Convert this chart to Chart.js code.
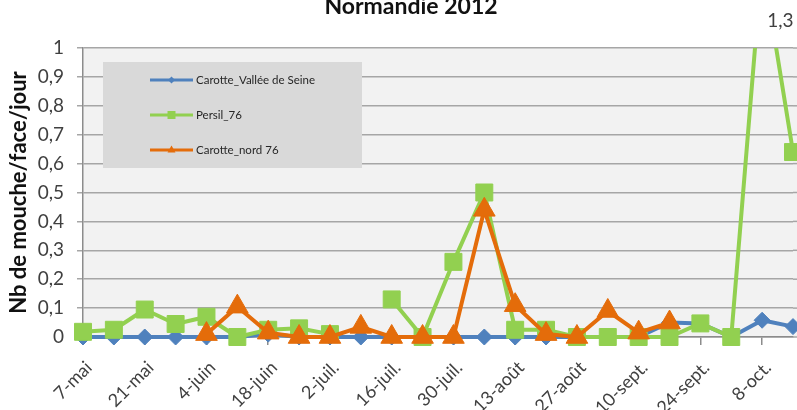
<!DOCTYPE html>
<html lang="fr">
<head>
<meta charset="UTF-8">
<title>Normandie 2012</title>
<script src="https://cdn.jsdelivr.net/npm/chart.js@4.4.1/dist/chart.umd.min.js"></script>
<style>
    html, body { margin: 0; padding: 0; background: #fff; }
    #wrap { width: 797px; height: 410px; }
</style>
</head>
<body>
<div id="wrap"><canvas id="chart" width="797" height="410"></canvas></div>
<script>
    // semaines 2012 (lundi)
    var dates = ['7-mai', '14-mai', '21-mai', '28-mai', '4-juin', '11-juin', '18-juin', '25-juin',
        '2-juil.', '9-juil.', '16-juil.', '23-juil.', '30-juil.', '6-août', '13-août', '20-août',
        '27-août', '3-sept.', '10-sept.', '17-sept.', '24-sept.', '1-oct.', '8-oct.', '15-oct.'];

    var carotteSeine = [0, 0, 0, 0, 0, 0, 0.01, 0, 0, 0, 0, 0,
        0, 0, 0, 0, 0, 0, 0, 0.05, 0.047, 0, 0.058, 0.036];
    var persil76 = [0.018, 0.025, 0.095, 0.045, 0.07, 0, 0.025, 0.03, 0.01, null, 0.13, 0,
        0.26, 0.5, 0.025, 0.025, 0, 0, 0, 0, 0.047, 0, 1.3, 0.64];
    var carotteNord = [null, null, null, null, 0.01, 0.105, 0.015, 0, 0, 0.035, 0, 0,
        0, 0.44, 0.11, 0.01, 0, 0.09, 0.015, 0.05, null, null, null, null];

    var yTicks = [0, 0.1, 0.2, 0.3, 0.4, 0.5, 0.6, 0.7, 0.8, 0.9, 1];

    var BLUE = '#4f81bd', GREEN = '#92d050', ORANGE = '#e46c0a';
    var FONT = 'Lato';

    function fr(v) {
        return String(Math.round(v * 10) / 10).replace('.', ',');
    }

    var bgPlugin = {
        id: 'plotBg',
        beforeDraw: function (chart) {
            var a = chart.chartArea, c = chart.ctx;
            c.save();
            c.fillStyle = '#f2f2f2';
            c.fillRect(a.left, a.top, chart.width - a.left, a.bottom - a.top);
            c.restore();
        },
        beforeDatasetsDraw: function (chart) {
            var a = chart.chartArea, c = chart.ctx, y = chart.scales.y;
            c.save();
            // gridlines continue to the cropped right edge
            c.strokeStyle = '#a6a6a6';
            c.lineWidth = 1.5;
            yTicks.forEach(function (t) {
                var py = y.getPixelForValue(t);
                c.beginPath();
                c.moveTo(a.right, py);
                c.lineTo(chart.width, py);
                c.stroke();
            });
            // legend box inside plot
            var bx = a.left + 20, by = a.top + 14;
            c.fillStyle = '#d9d9d9';
            c.fillRect(bx, by, 259, 106);
            c.font = '11.5px ' + FONT;
            c.textBaseline = 'middle';
            c.textAlign = 'left';
            chart.data.datasets.forEach(function (ds, i) {
                var ry = by + 18 + i * 35;
                var x0 = bx + 47, x1 = bx + 90, cx = (x0 + x1) / 2;
                c.strokeStyle = ds.borderColor;
                c.lineWidth = 3;
                c.beginPath();
                c.moveTo(x0, ry);
                c.lineTo(x1, ry);
                c.stroke();
                c.fillStyle = ds.borderColor;
                c.beginPath();
                if (ds.pointStyle === 'rectRot') {
                    c.moveTo(cx, ry - 3.5); c.lineTo(cx + 3.5, ry); c.lineTo(cx, ry + 3.5); c.lineTo(cx - 3.5, ry);
                } else if (ds.pointStyle === 'rect') {
                    c.rect(cx - 4, ry - 4, 8, 8);
                } else {
                    c.moveTo(cx, ry - 4.5); c.lineTo(cx + 4, ry + 2.5); c.lineTo(cx - 4, ry + 2.5);
                }
                c.closePath();
                c.fill();
                c.fillStyle = '#262626';
                c.fillText(ds.label, x1 + 3, ry);
            });
            c.restore();
        },
        afterDraw: function (chart) {
            var c = chart.ctx, x = chart.scales.x, a = chart.chartArea;
            c.save();
            c.fillStyle = '#111';
            c.font = 'bold 23px ' + FONT;
            c.textAlign = 'center';
            c.textBaseline = 'alphabetic';
            c.fillText('Normandie 2012', 411, 14);
            // data label of the off-scale point
            var peak = persil76.indexOf(Math.max.apply(null, persil76));
            c.fillStyle = '#404040';
            c.font = '19px ' + FONT;
            c.textAlign = 'left';
            c.textBaseline = 'middle';
            c.fillText(fr(persil76[peak]), x.getPixelForValue(peak) + 5, a.top - 27);
            c.restore();
        }
    };

    var clipBox = { left: 20, top: 0, right: 20, bottom: 20 };

    var config = {
        type: 'line',
        data: {
            labels: dates,
            datasets: [{
                label: 'Carotte_Vallée de Seine',
                data: carotteSeine,
                borderColor: BLUE,
                backgroundColor: BLUE,
                pointStyle: 'rectRot',
                pointRadius: 8,
                clip: clipBox,
                order: 3
            }, {
                label: 'Persil_76',
                data: persil76,
                borderColor: GREEN,
                backgroundColor: GREEN,
                pointStyle: 'rect',
                pointRadius: 12,
                clip: clipBox,
                order: 2
            }, {
                label: 'Carotte_nord 76',
                data: carotteNord,
                borderColor: ORANGE,
                backgroundColor: ORANGE,
                pointStyle: 'triangle',
                pointRadius: 12.5,
                clip: clipBox,
                order: 1
            }]
        },
        options: {
            responsive: false,
            animation: false,
            spanGaps: false,
            layout: { autoPadding: false, padding: { top: 48, right: 4, left: 0, bottom: 0 } },
            elements: {
                line: { borderWidth: 4, tension: 0, borderJoinStyle: 'round', borderCapStyle: 'round' },
                point: { borderWidth: 1 }
            },
            plugins: {
                legend: { display: false },
                tooltip: { enabled: false },
                title: { display: false }
            },
            events: [],
            scales: {
                x: {
                    offset: false,
                    grid: {
                        drawOnChartArea: false,
                        tickLength: 8,
                        lineWidth: 1.5,
                        color: function (ctx) { return ctx.index % 2 === 0 ? '#8c8c8c' : 'rgba(0,0,0,0)'; }
                    },
                    border: { color: '#8c8c8c', width: 1.5 },
                    ticks: {
                        autoSkip: false,
                        maxRotation: 45,
                        minRotation: 45,
                        padding: 12,
                        labelOffset: 6,
                        color: '#404040',
                        font: { family: FONT, size: 18 },
                        callback: function (v, i) { return i % 2 === 0 ? this.getLabelForValue(v) : ''; }
                    },
                    afterFit: function (s) {
                        s.height = 73;
                        s.paddingLeft = 0;
                        s.paddingRight = 0;
                    }
                },
                y: {
                    min: 0,
                    max: 1,
                    afterBuildTicks: function (s) {
                        s.ticks = yTicks.map(function (v) { return { value: v }; });
                    },
                    grid: { color: '#a6a6a6', lineWidth: 1.5, tickLength: 6 },
                    border: { color: '#8c8c8c', width: 1.5 },
                    ticks: {
                        padding: 13,
                        color: '#404040',
                        font: { family: FONT, size: 19 },
                        callback: function (v) { return fr(v); }
                    },
                    title: {
                        display: true,
                        text: 'Nb de mouche/face/jour',
                        color: '#111',
                        font: { family: FONT, size: 22, weight: 'bold' },
                        padding: { top: 6, bottom: 0 }
                    },
                    afterFit: function (s) { s.width = 83; }
                }
            }
        },
        plugins: [bgPlugin]
    };

    window.onload = function () {
        var ctx = document.getElementById('chart').getContext('2d');
        window.myLine = new Chart(ctx, config);
    };
</script>
</body>
</html>
